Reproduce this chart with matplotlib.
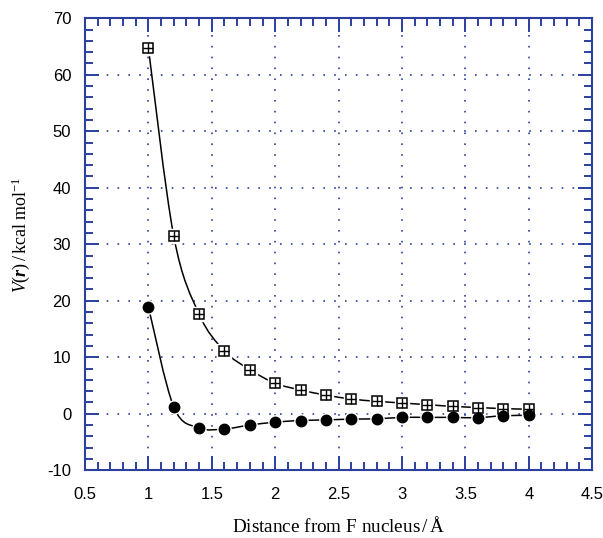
import numpy as np
import matplotlib.pyplot as plt
from matplotlib.path import Path
from matplotlib.patches import PathPatch

plt.rcParams["font.family"] = "Liberation Sans"
plt.rcParams["axes.unicode_minus"] = False
plt.rcParams["mathtext.fontset"] = "custom"
plt.rcParams["mathtext.rm"] = "Liberation Serif"
plt.rcParams["mathtext.it"] = "Liberation Serif:italic"
plt.rcParams["mathtext.bf"] = "Liberation Serif:bold"
plt.rcParams["mathtext.bfit"] = "Liberation Serif:bold:italic"

# data
r = [1.0, 1.2, 1.4, 1.6, 1.8, 2.0, 2.2, 2.4, 2.6, 2.8, 3.0, 3.2, 3.4, 3.6, 3.8, 4.0]
v_square = [64.7, 31.4, 17.6, 11.1, 7.8, 5.4, 4.2, 3.3, 2.6, 2.2, 1.9, 1.6, 1.3, 1.1, 0.9, 0.8]
v_circle = [18.9, 1.2, -2.5, -2.7, -2.0, -1.5, -1.2, -1.1, -0.95, -0.9, -0.65, -0.65, -0.65, -0.7, -0.35, -0.3]

blue = "#2b3f9e"


def smooth_path(x, y):
    # Catmull-Rom through the points, drawn as cubic Bezier segments
    p = np.column_stack([x, y])
    p = np.vstack([p[0], p, p[-1]])
    verts = [p[1]]
    codes = [Path.MOVETO]
    for i in range(1, len(p) - 2):
        c1 = p[i] + (p[i + 1] - p[i - 1]) / 6.0
        c2 = p[i + 1] - (p[i + 2] - p[i]) / 6.0
        verts += [c1, c2, p[i + 1]]
        codes += [Path.CURVE4] * 3
    return Path(verts, codes)


fig = plt.figure(figsize=(6.03, 5.38), dpi=100)
ax = fig.add_axes([0.141, 0.126, 0.841, 0.840])

for y in (v_square, v_circle):
    ax.add_patch(PathPatch(smooth_path(r, y), fill=False, ec="black", lw=1.1, zorder=3))

# white halos so the line breaks around the markers
ax.plot(r, v_square, ls="none", marker="s", ms=9.5, mfc="white", mec="white", zorder=4)
ax.plot(r, v_circle, ls="none", marker="o", ms=9.5, mfc="white", mec="white", zorder=4)

ax.plot(r, v_square, ls="none", marker="s", ms=7, mfc="white", mec="black", mew=1.1, zorder=5)
ax.plot(r, v_square, ls="none", marker="+", ms=7, mec="black", mew=1.0, zorder=6)
ax.plot(r, v_circle, ls="none", marker="o", ms=7.5, mfc="black", mec="black", zorder=5)

ax.set_xlim(0.5, 4.5)
ax.set_ylim(-10, 70)
ax.set_xticks(np.arange(0.5, 4.51, 0.5))
ax.set_xticklabels(["0.5", "1", "1.5", "2", "2.5", "3", "3.5", "4", "4.5"])
ax.set_yticks(np.arange(-10, 71, 10))
ax.set_xticks(np.arange(0.5, 4.51, 0.1), minor=True)
ax.set_yticks(np.arange(-10, 70.1, 2), minor=True)

ax.grid(True, which="major", color=blue, ls=(0, (1, 5.5)), lw=1.2)
ax.set_axisbelow(True)

for s in ax.spines.values():
    s.set_color(blue)
    s.set_linewidth(1.5)

ax.tick_params(which="both", direction="in", top=True, right=True, color=blue,
               width=1.4, labelsize=12, labelcolor="black")
ax.tick_params(which="major", length=10)
ax.tick_params(which="minor", length=5.5)
ax.tick_params(axis="y", pad=10)
ax.tick_params(axis="x", pad=12)

ax.set_xlabel("Distance from F nucleus$\\,/\\,$Å", family="Liberation Serif", fontsize=13.8, labelpad=10)
ax.set_ylabel(r"$V(\boldsymbol{r})\,/\,\mathrm{kcal\ mol^{-1}}$", fontsize=13, labelpad=8)
ax.yaxis.set_label_coords(-0.105, 0.52)

plt.savefig("out.png", dpi=100)
